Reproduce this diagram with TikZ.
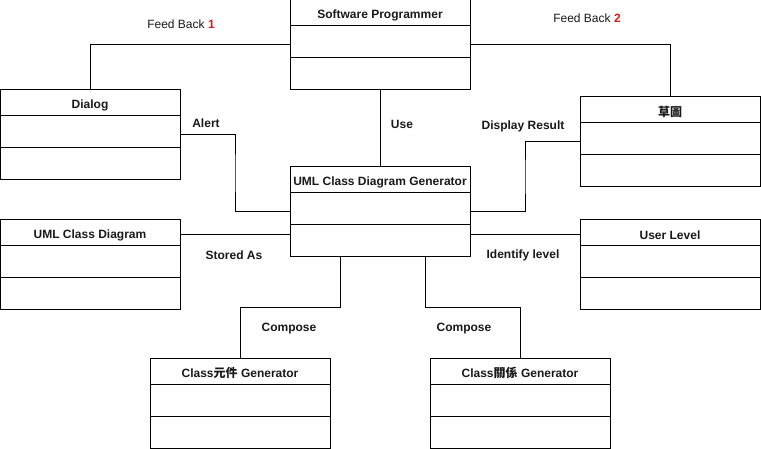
\documentclass[tikz,border=0pt]{standalone}
\usepackage{fontspec}
\setmainfont{Liberation Sans}
\newfontfamily\cjk{Noto Sans CJK TC}
\usetikzlibrary{calc}
\definecolor{fbred}{rgb}{0.85,0.1,0.1}
\definecolor{txt}{rgb}{0.1,0.1,0.1}
\tikzset{
  cls/.style={draw, line width=1pt, minimum width=180pt, minimum height=90pt, inner sep=0pt, outer sep=0pt, anchor=north west},
  clstitle/.style={font=\fontsize{12}{14}\selectfont\bfseries, text=txt, inner sep=0pt},
  lbl/.style={font=\fontsize{12}{14}\selectfont\bfseries, text=txt, inner sep=0pt},
  fblbl/.style={font=\fontsize{12}{14}\selectfont, text=txt, inner sep=0pt},
  conn/.style={line width=1pt},
}
\newcommand\umlcls[3]{%
  \node[cls] (#1) at (#2) {};
  \node[clstitle] (#1-t) at ([yshift=-15pt]#1.north) {#3};
  \draw[line width=1pt] ([yshift=-26pt]#1.north west) -- ([yshift=-26pt]#1.north east);
  \draw[line width=1pt] ([yshift=-58pt]#1.north west) -- ([yshift=-58pt]#1.north east);
}
\begin{document}
\begin{tikzpicture}[x=1pt,y=-1pt]
\useasboundingbox (0,0) rectangle (761,449);
\umlcls{sp}{290,0}{Software Programmer}
\umlcls{dlg}{0,90}{Dialog}
\umlcls{sk}{580,97}{{\cjk 草圖}}
\umlcls{gen}{290,167}{UML Class Diagram Generator}
\umlcls{ucd}{0,220}{UML Class Diagram}
\umlcls{ul}{580,220}{User Level}
\umlcls{c1}{150,358}{Class{\cjk 元件} Generator}
\umlcls{c2}{430,358}{Class{\cjk 關係} Generator}

% connectors
\draw[conn] (sp.west) -| (dlg.north);
\draw[conn] (sp.east) -| (sk.north);
\draw[conn] (sp.south) -- (gen.north);
\draw[conn] (dlg.east) -| ($(dlg.east)!0.5!(gen.west)$) |- (gen.west);
\draw[conn] (sk.west) -| ($(sk.west)!0.5!(gen.east)$) |- (gen.east);
\draw[conn] ([yshift=-15pt]ucd.north east) -- ([yshift=-68pt]gen.north west);
\draw[conn] ([yshift=-68pt]gen.north east) -- ([yshift=-15pt]ul.north west);
\coordinate (m1) at ($([xshift=-40pt]gen.south)!0.5!(c1.north)$);
\coordinate (m2) at ($([xshift=45pt]gen.south)!0.5!(c2.north)$);
\draw[conn] ([xshift=-40pt]gen.south) -- ([xshift=-40pt]gen.south |- m1) -| (c1.north);
\draw[conn] ([xshift=45pt]gen.south) -- ([xshift=45pt]gen.south |- m2) -| (c2.north);

% labels
\node[fblbl] (l1) at (181,24) {Feed Back \textbf{\textcolor{fbred}{1}}};
\node[fblbl] (l2) at (587,18) {Feed Back \textbf{\textcolor{fbred}{2}}};
\node[lbl] (l3) at (402,124) {Use};
\node[lbl] (l4) at (206,123) {Alert};
\node[lbl] (l5) at (523,126) {Display Result};
\node[lbl] (l6) at (234,255) {Stored As};
\node[lbl] (l7) at (523,255) {Identify level};
\node[lbl] (l8) at (289,329) {Compose};
\node[lbl] (l9) at (464,329) {Compose};
\end{tikzpicture}
\end{document}
